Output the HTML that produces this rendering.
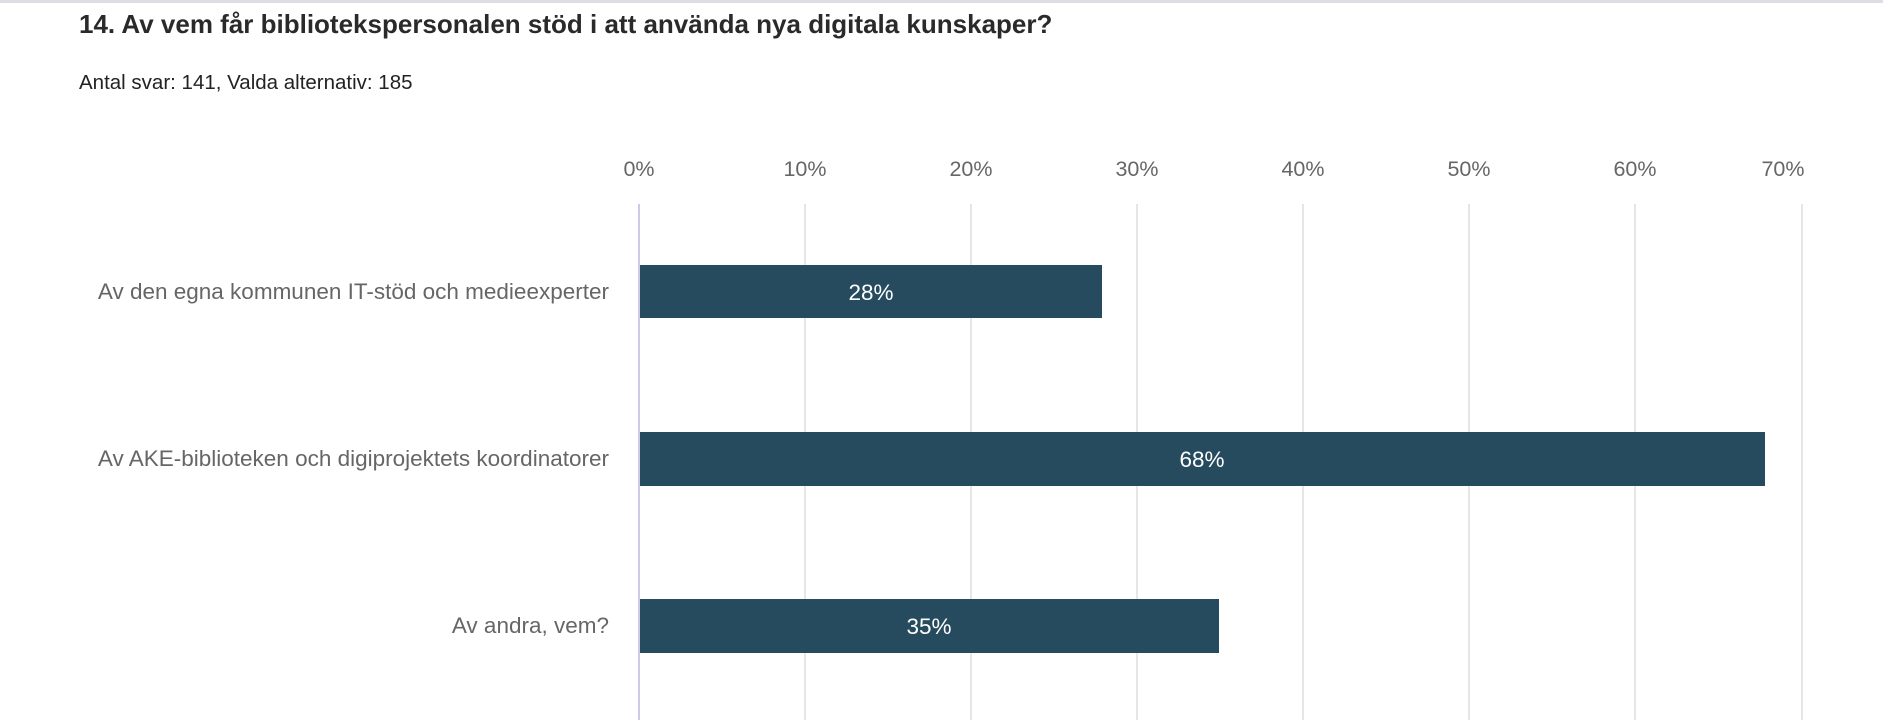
<!DOCTYPE html>
<html><head><meta charset="utf-8"><style>
html,body{margin:0;padding:0;background:#fff;width:1883px;height:720px;overflow:hidden}
svg{display:block;font-family:"Liberation Sans",Arial,sans-serif}
</style></head><body>
<svg width="1883" height="720" xmlns="http://www.w3.org/2000/svg">
<rect x="0" y="0" width="1883" height="3" fill="#dddde3"/>
<text x="79" y="33" font-size="26" font-weight="bold" fill="#2a2a2a">14. Av vem får bibliotekspersonalen stöd i att använda nya digitala kunskaper?</text>
<text x="79" y="89" font-size="20.5" fill="#222">Antal svar: 141, Valda alternativ: 185</text>
<g font-size="21.5" fill="#666" text-anchor="middle">
<text x="639" y="176">0%</text><text x="805" y="176">10%</text><text x="971" y="176">20%</text><text x="1137" y="176">30%</text><text x="1303" y="176">40%</text><text x="1469" y="176">50%</text><text x="1635" y="176">60%</text><text x="1783" y="176">70%</text>
</g>
<g stroke="#e6e6e6" stroke-width="2">
<line x1="805" y1="204" x2="805" y2="720"/><line x1="971" y1="204" x2="971" y2="720"/><line x1="1137" y1="204" x2="1137" y2="720"/><line x1="1303" y1="204" x2="1303" y2="720"/><line x1="1469" y1="204" x2="1469" y2="720"/><line x1="1635" y1="204" x2="1635" y2="720"/><line x1="1802" y1="204" x2="1802" y2="720"/>
</g>
<line x1="639" y1="204" x2="639" y2="720" stroke="#ccccea" stroke-width="2"/>
<g fill="#264b5e">
<rect x="640" y="265" width="462" height="53"/>
<rect x="640" y="432" width="1125" height="54"/>
<rect x="640" y="599" width="579" height="54"/>
</g>
<g font-size="22.5" fill="#fff" text-anchor="middle">
<text x="871" y="300">28%</text><text x="1202" y="467">68%</text><text x="929" y="634">35%</text>
</g>
<g font-size="22.5" fill="#666" text-anchor="end">
<text x="609" y="299">Av den egna kommunen IT-stöd och medieexperter</text>
<text x="609" y="466">Av AKE-biblioteken och digiprojektets koordinatorer</text>
<text x="609" y="633">Av andra, vem?</text>
</g>
</svg>
</body></html>
